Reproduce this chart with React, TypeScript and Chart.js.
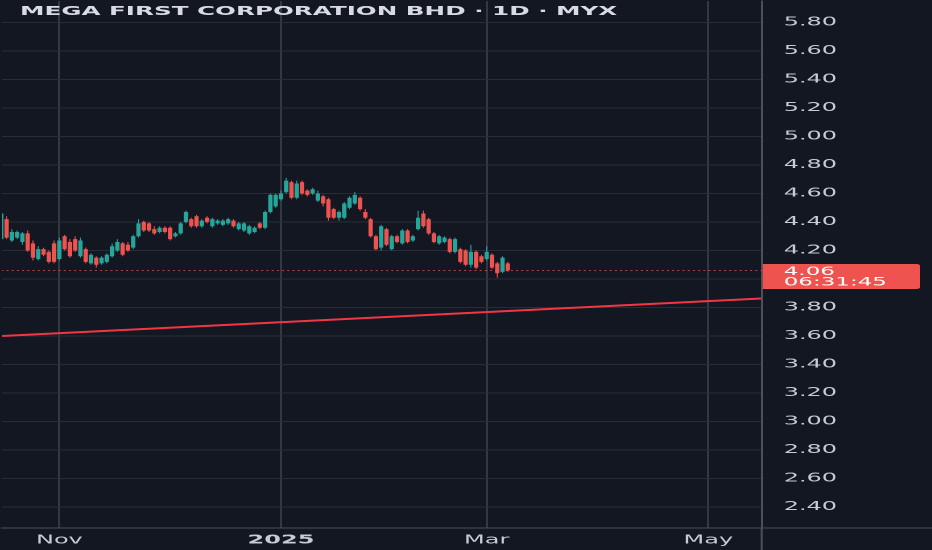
import { useEffect, useRef } from "react";
import { Chart, registerables } from "chart.js";
import type { ChartConfiguration, Plugin } from "chart.js";

Chart.register(...registerables);

// Daily candles, one per trading day (index 0 = mid Oct 2024, last = 7 Mar 2025)
const opens = [
  4.28, 4.42, 4.27, 4.29, 4.26, 4.32, 4.25, 4.14, 4.21, 4.19,
  4.25, 4.14, 4.3, 4.26, 4.28, 4.16, 4.21, 4.11, 4.15, 4.11,
  4.12, 4.16, 4.2, 4.25, 4.24, 4.22, 4.3, 4.4, 4.39, 4.35,
  4.33, 4.36, 4.36, 4.3, 4.32, 4.4, 4.42, 4.44, 4.37, 4.43,
  4.37, 4.39, 4.38, 4.39, 4.41, 4.35, 4.34, 4.32, 4.33, 4.39,
  4.36, 4.47, 4.51, 4.56, 4.61, 4.68, 4.57, 4.68, 4.62, 4.6,
  4.55, 4.58, 4.56, 4.49, 4.43, 4.43, 4.5, 4.53, 4.57, 4.47,
  4.42, 4.3, 4.22, 4.35, 4.21, 4.3, 4.25, 4.34, 4.27, 4.35,
  4.46, 4.42, 4.32, 4.25, 4.26, 4.28, 4.19, 4.21, 4.2, 4.1,
  4.19, 4.16, 4.14, 4.17, 4.11, 4.05, 4.11,
];
const closes = [
  4.46, 4.29, 4.33, 4.33, 4.32, 4.2, 4.15, 4.21, 4.17, 4.12,
  4.12, 4.27, 4.21, 4.16, 4.2, 4.27, 4.12, 4.17, 4.1, 4.15,
  4.17, 4.23, 4.26, 4.17, 4.2, 4.3, 4.39, 4.34, 4.34, 4.32,
  4.36, 4.33, 4.28, 4.32, 4.39, 4.47, 4.37, 4.37, 4.41, 4.4,
  4.42, 4.41, 4.41, 4.42, 4.37, 4.39, 4.39, 4.37, 4.36, 4.36,
  4.47, 4.59, 4.59, 4.6, 4.69, 4.57, 4.67, 4.6, 4.59, 4.63,
  4.6, 4.53, 4.43, 4.43, 4.47, 4.53, 4.57, 4.59, 4.49, 4.43,
  4.3, 4.21, 4.37, 4.24, 4.3, 4.26, 4.34, 4.26, 4.3, 4.43,
  4.37, 4.32, 4.26, 4.3, 4.29, 4.19, 4.28, 4.12, 4.1, 4.19,
  4.08, 4.12, 4.19, 4.08, 4.04, 4.15, 4.06,
];
const highs = [
  4.48, 4.44, 4.35, 4.34, 4.33, 4.34, 4.27, 4.23, 4.22, 4.2,
  4.27, 4.29, 4.31, 4.28, 4.3, 4.29, 4.22, 4.18, 4.16, 4.16,
  4.18, 4.25, 4.28, 4.26, 4.26, 4.31, 4.42, 4.41, 4.4, 4.37,
  4.37, 4.37, 4.37, 4.33, 4.4, 4.48, 4.43, 4.45, 4.42, 4.44,
  4.43, 4.42, 4.42, 4.43, 4.42, 4.4, 4.4, 4.38, 4.37, 4.4,
  4.48, 4.6, 4.6, 4.62, 4.71, 4.69, 4.69, 4.69, 4.63, 4.64,
  4.62, 4.59, 4.57, 4.5, 4.48, 4.54, 4.58, 4.61, 4.58, 4.49,
  4.43, 4.31, 4.38, 4.36, 4.31, 4.31, 4.35, 4.35, 4.31, 4.48,
  4.48, 4.43, 4.33, 4.31, 4.3, 4.29, 4.29, 4.22, 4.21, 4.24,
  4.2, 4.17, 4.23, 4.18, 4.12, 4.16, 4.12,
];
const lows = [
  4.26, 4.28, 4.26, 4.28, 4.24, 4.19, 4.13, 4.13, 4.16, 4.11,
  4.11, 4.13, 4.2, 4.15, 4.19, 4.15, 4.11, 4.1, 4.08, 4.1,
  4.11, 4.15, 4.19, 4.16, 4.19, 4.21, 4.29, 4.33, 4.33, 4.31,
  4.32, 4.32, 4.27, 4.29, 4.31, 4.39, 4.36, 4.36, 4.36, 4.39,
  4.36, 4.38, 4.37, 4.38, 4.36, 4.34, 4.33, 4.31, 4.32, 4.35,
  4.35, 4.46, 4.5, 4.55, 4.6, 4.56, 4.56, 4.59, 4.58, 4.59,
  4.54, 4.51, 4.41, 4.42, 4.41, 4.42, 4.49, 4.52, 4.48, 4.42,
  4.29, 4.2, 4.2, 4.23, 4.2, 4.25, 4.24, 4.25, 4.26, 4.34,
  4.36, 4.31, 4.25, 4.24, 4.25, 4.18, 4.18, 4.11, 4.09, 4.08,
  4.07, 4.11, 4.13, 4.07, 4.01, 4.04, 4.05,
];

const priceTicks = [
  2.4, 2.6, 2.8, 3.0, 3.2, 3.4, 3.6, 3.8, 4.0, 4.2, 4.4, 4.6, 4.8, 5.0, 5.2,
  5.4, 5.6, 5.8,
];
const monthTickIndex = [11, 53, 92, 134];
const monthTickLabels = ["Nov", "2025", "Mar", "May"];

// Rising support line drawn on the chart
const trendIndex = [0, 144];
const trendPrice = [3.6, 3.863];

const lastPrice = 4.06;
const countdown = "06:31:45";
const title = "MEGA FIRST CORPORATION BHD · 1D · MYX";

const UP = "#26a69a";
const DOWN = "#ef5350";
const BG = "#131722";
const AXIS_LINE = "#4c505b";
const TEXT = "#c8cbd3";
const FONT = "DejaVu Sans";

const overlay: Plugin<"bar"> = {
  id: "overlay",
  beforeDraw(chart) {
    const { ctx, width, height } = chart;
    ctx.save();
    ctx.fillStyle = BG;
    ctx.fillRect(0, 0, width, height);
    ctx.restore();
  },
  afterDraw(chart) {
    const { ctx, chartArea, width, height } = chart;
    const yScale = chart.scales.y;
    ctx.save();
    // axis lines run on past the plot area
    ctx.strokeStyle = AXIS_LINE;
    ctx.lineWidth = 1;
    ctx.beginPath();
    ctx.moveTo(chartArea.right, chartArea.bottom);
    ctx.lineTo(chartArea.right, height);
    ctx.moveTo(chartArea.right, chartArea.bottom);
    ctx.lineTo(width, chartArea.bottom);
    ctx.stroke();

    // title
    ctx.fillStyle = "#d8dbe2";
    ctx.font = `bold 12.3px "${FONT}"`;
    ctx.textBaseline = "middle";
    ctx.textAlign = "left";
    ctx.fillText(title, 10, 12);

    // last price tag
    const py = yScale.getPixelForValue(lastPrice);
    const x0 = chartArea.right + 0.5;
    ctx.fillStyle = DOWN;
    ctx.beginPath();
    ctx.roundRect(x0, py - 6.5, 460 - x0, 25, [0, 2, 2, 0]);
    ctx.fill();
    ctx.fillStyle = "#ffffff";
    ctx.font = `11.5px "${FONT}"`;
    ctx.fillText(lastPrice.toFixed(2), chartArea.right + 11, py + 1.5);
    ctx.fillText(countdown, chartArea.right + 11, py + 12);
    ctx.restore();
  },
};

export default function App() {
  const canvasRef = useRef<HTMLCanvasElement | null>(null);

  useEffect(() => {
    if (!canvasRef.current) return;

    const idx = opens.map((_, i) => i);
    const colors = idx.map((i) => (closes[i] >= opens[i] ? UP : DOWN));

    const config: ChartConfiguration<"bar"> = {
      type: "bar",
      data: {
        datasets: [
          {
            label: "body",
            data: idx.map((i) => ({ x: i, y: [opens[i], closes[i]] })) as any,
            backgroundColor: colors,
            grouped: false,
            categoryPercentage: 1,
            barPercentage: 0.8,
            order: 0,
          },
          {
            label: "wick",
            data: idx.map((i) => ({ x: i, y: [lows[i], highs[i]] })) as any,
            backgroundColor: colors,
            grouped: false,
            categoryPercentage: 1,
            barPercentage: 0.2,
            order: 1,
          },
          {
            type: "line",
            label: "last",
            data: [
              { x: 0, y: lastPrice },
              { x: 145, y: lastPrice },
            ] as any,
            borderColor: "rgba(239, 83, 80, 0.75)",
            borderWidth: 1,
            borderDash: [1, 1.6],
            pointRadius: 0,
            order: 2,
          } as any,
          {
            type: "line",
            label: "trend",
            data: trendIndex.map((x, i) => ({ x, y: trendPrice[i] })) as any,
            borderColor: "#f23645",
            borderWidth: 2,
            pointRadius: 0,
            order: 3,
          } as any,
        ],
      },
      options: {
        animation: false,
        responsive: true,
        maintainAspectRatio: false,
        devicePixelRatio: 2,
        layout: { padding: 0 },
        plugins: {
          legend: { display: false },
          tooltip: { enabled: false },
        },
        scales: {
          x: {
            type: "linear",
            min: 0.13,
            max: 144.12,
            offset: false,
            afterBuildTicks: (s: any) => {
              s.ticks = monthTickIndex.map((v) => ({ value: v }));
            },
            afterFit: (s: any) => {
              s.height = 22;
              s.paddingLeft = 0;
              s.paddingRight = 0;
            },
            grid: { color: "#343844", lineWidth: 1, drawTicks: false, offset: false },
            border: { display: true, color: AXIS_LINE, width: 1 },
            ticks: {
              color: TEXT,
              padding: 5,
              autoSkip: false,
              maxRotation: 0,
              font: (c: any) => ({
                family: FONT,
                size: 12,
                weight: monthTickLabels[c.index] === "2025" ? "bold" : "normal",
              }),
              callback: (v: any) => monthTickLabels[monthTickIndex.indexOf(Number(v))],
            },
          },
          y: {
            type: "linear",
            position: "right",
            min: 2.253,
            max: 5.9506,
            afterBuildTicks: (s: any) => {
              s.ticks = priceTicks.map((v) => ({ value: v }));
            },
            afterFit: (s: any) => {
              s.width = 85.15;
              s.paddingTop = 0;
              s.paddingBottom = 0;
            },
            grid: { color: "#292d38", lineWidth: 1, drawTicks: false },
            border: { display: true, color: AXIS_LINE, width: 1 },
            ticks: {
              color: TEXT,
              padding: 11,
              font: { family: FONT, size: 12 },
              callback: (v: any) => Number(v).toFixed(2),
            },
          },
        },
      },
      plugins: [overlay],
    };

    const chart = new Chart(canvasRef.current, config);
    return () => {
      chart.destroy();
    };
  }, []);

  return (
    <div
      style={{
        position: "fixed",
        left: 0,
        top: 0,
        width: 932,
        height: 550,
        background: BG,
        overflow: "hidden",
      }}
    >
      {/* the source screenshot is stretched 2x horizontally */}
      <div
        style={{
          width: 466,
          height: 550,
          transform: "scaleX(2)",
          transformOrigin: "0 0",
        }}
      >
        <canvas ref={canvasRef} />
      </div>
    </div>
  );
}
